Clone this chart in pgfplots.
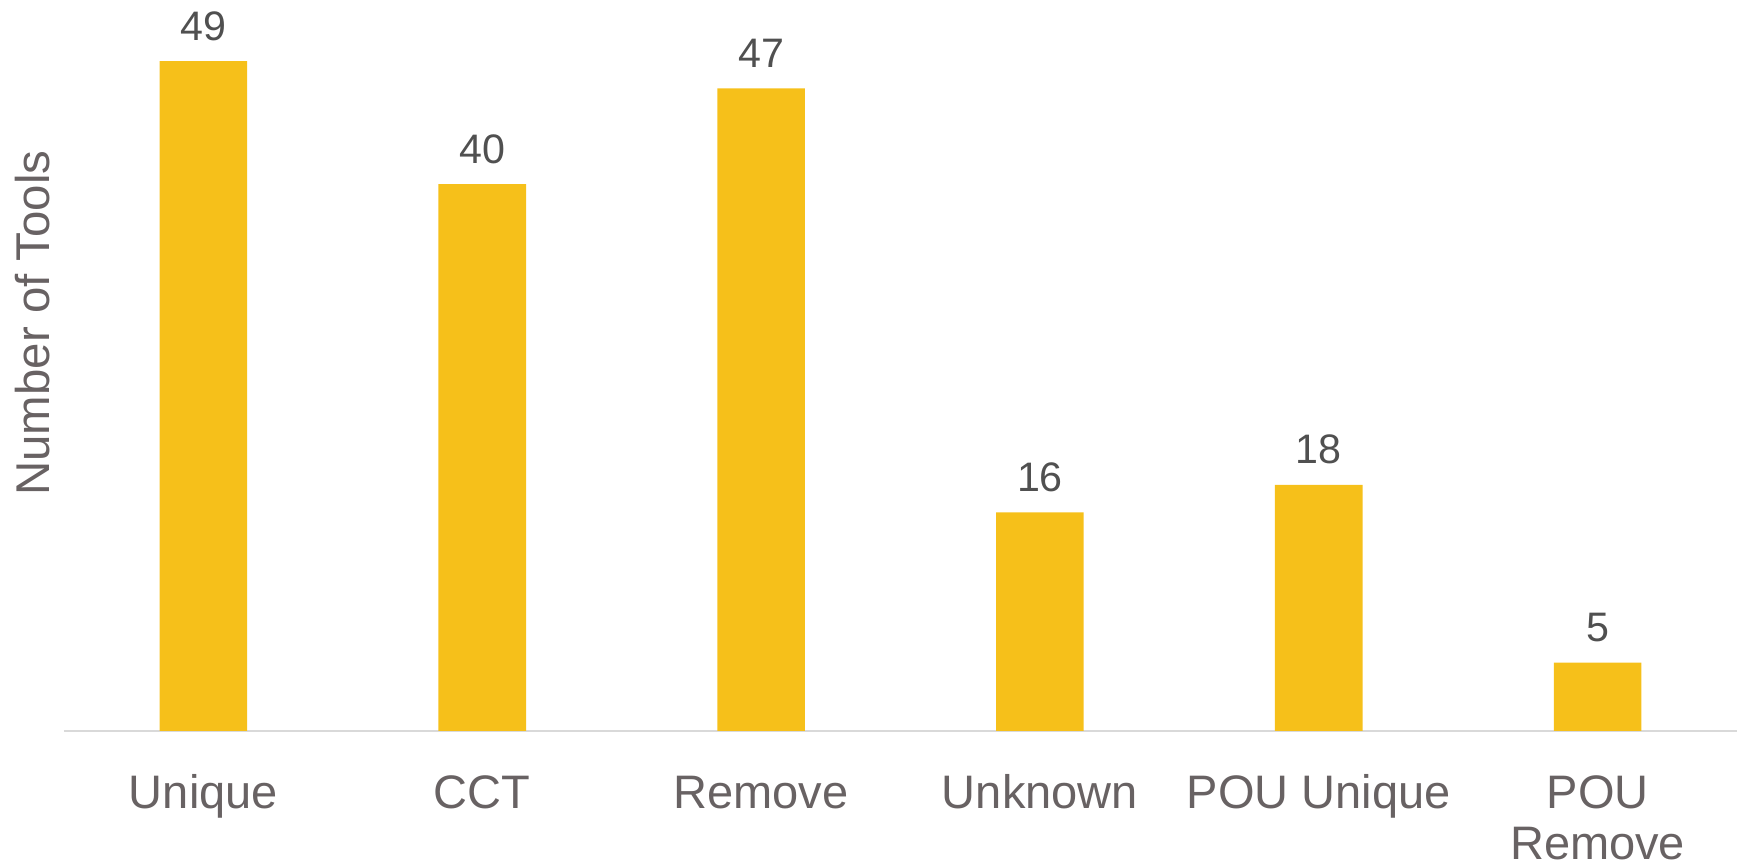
\documentclass[border=0pt]{standalone}
\usepackage{fontspec}
\setmainfont{Liberation Sans}
\usepackage{pgfplots}
\pgfplotsset{compat=1.18}
\definecolor{bargold}{RGB}{246,192,26}
\definecolor{axtext}{RGB}{104,98,99}
\definecolor{datatext}{RGB}{80,80,80}
\definecolor{baseln}{RGB}{217,217,217}
\begin{document}
\begin{tikzpicture}
\begin{axis}[name=ax, scale only axis, width=418.25pt, height=182.75pt,
  xmin=-0.5, xmax=5.5, ymin=0, ymax=53.47, clip=false,
  /pgf/number format/assume math mode=true,
  axis x line*=bottom, axis y line*=left,
  x axis line style={draw=baseln, line width=0.42pt, -},
  y axis line style={draw=none},
  xtick={0,1,2,3,4,5}, major tick length=0pt, ytick=\empty,
  xticklabels={Unique, CCT, Remove, Unknown, POU Unique, {\begin{tabular}[t]{@{}c@{}}POU\\Remove\end{tabular}}},
  xticklabel style={font=\fontsize{11.75}{12.75}\selectfont, text=axtext, anchor=base, yshift=-19.3pt},
  ylabel={Number of Tools},
  ylabel style={font=\fontsize{11.85}{12}\selectfont, text=axtext, at={(rel axis cs:-0.00837,0.558)}, anchor=base},
  ybar, bar width=21.9pt,
  nodes near coords,
  nodes near coords style={font=\fontsize{10.3}{12}\selectfont, text=datatext, anchor=base, yshift=5.25pt},
]
\addplot[fill=bargold, draw=none] coordinates {(0,49) (1,40) (2,47) (3,16) (4,18) (5,5)};
\end{axis}
\pgfresetboundingbox
\path[use as bounding box] ([xshift=-16pt, yshift=-34pt]ax.south west) rectangle (ax.north east);
\end{tikzpicture}
\end{document}
